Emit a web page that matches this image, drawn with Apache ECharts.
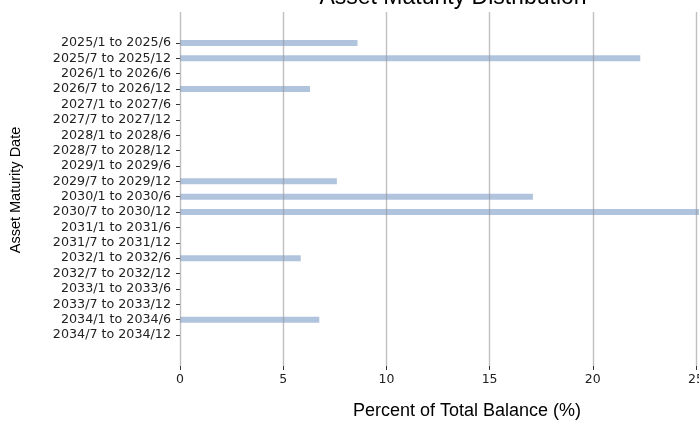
<!DOCTYPE html>
<html>
<head>
<meta charset="utf-8">
<script src="https://cdn.jsdelivr.net/npm/echarts@6/dist/echarts.min.js"></script>
<style>html,body{margin:0;padding:0;background:#fff}#c{width:699px;height:422px}</style>
</head>
<body>
<div id="c"></div>
<script>
const categories = [
  '2025/1 to 2025/6','2025/7 to 2025/12','2026/1 to 2026/6','2026/7 to 2026/12',
  '2027/1 to 2027/6','2027/7 to 2027/12','2028/1 to 2028/6','2028/7 to 2028/12',
  '2029/1 to 2029/6','2029/7 to 2029/12','2030/1 to 2030/6','2030/7 to 2030/12',
  '2031/1 to 2031/6','2031/7 to 2031/12','2032/1 to 2032/6','2032/7 to 2032/12',
  '2033/1 to 2033/6','2033/7 to 2033/12','2034/1 to 2034/6','2034/7 to 2034/12'
];
const percentValues = [8.6, 22.3, 0, 6.3, 0, 0, 0, 0, 0, 7.6, 17.1, 25.5, 0, 0, 5.85, 0, 0, 0, 6.75, 0];
const xTicks = [0, 5, 10, 15, 20, 25];
const titleText = 'Asset Maturity Distribution';
const xName = 'Percent of Total Balance (%)';
const yName = 'Asset Maturity Date';

const chart = echarts.init(document.getElementById('c'), null, {renderer: 'canvas'});
const X_MAX = 30;
const unitPx = (696 - 180) / 25;
const plotW = X_MAX * unitPx;
const band = (335 - 43) / (categories.length - 1);

chart.setOption({
  animation: false,
  backgroundColor: '#fff',
  grid: [
    {left: 180, width: plotW, top: 12, height: 354, outerBoundsMode: 'none', containLabel: false},
    {left: 180, width: plotW, top: 43 - band / 2, height: band * categories.length, outerBoundsMode: 'none', containLabel: false}
  ],
  xAxis: [
    {
      gridIndex: 0, type: 'value', min: 0, max: X_MAX, interval: 5, z: 5,
      axisLine: {show: false},
      axisTick: {show: true, length: 4, lineStyle: {color: '#333'}},
      splitLine: {show: true, lineStyle: {color: 'rgba(150,150,150,0.6)', width: 1.4}},
      axisLabel: {
        color: '#222', fontFamily: 'DejaVu Sans', fontSize: 12.5, margin: 7,
        formatter: v => xTicks.indexOf(v) >= 0 ? String(v) : ''
      }
    },
    {
      gridIndex: 1, type: 'value', min: 0, max: X_MAX, show: false
    }
  ],
  yAxis: [
    {gridIndex: 0, type: 'value', show: false, min: 0, max: 1},
    {
      gridIndex: 1, type: 'category', data: categories, inverse: true,
      axisLine: {show: false},
      axisTick: {show: true, length: 4, alignWithLabel: true, lineStyle: {color: '#333'}},
      axisLabel: {color: '#222', fontFamily: 'DejaVu Sans', fontSize: 12.7, margin: 9, interval: 0},
      splitLine: {show: false}
    }
  ],
  series: [{
    type: 'bar', xAxisIndex: 1, yAxisIndex: 1,
    data: percentValues,
    barWidth: 6,
    itemStyle: {color: '#b0c4de'},
    z: 2
  }],
  graphic: [
    {
      type: 'text', x: 453, y: -2,
      style: {text: titleText, align: 'center', verticalAlign: 'middle',
        font: '23px "Liberation Sans"', fill: '#000'}
    },
    {
      type: 'text', x: 16, y: 190, rotation: Math.PI / 2,
      style: {text: yName, align: 'center', verticalAlign: 'middle',
        font: '14.5px "Liberation Sans"', fill: '#000'}
    },
    {
      type: 'text', x: 467, y: 411,
      style: {text: xName, align: 'center', verticalAlign: 'middle',
        font: '18px "Liberation Sans"', fill: '#000'}
    }
  ]
});
</script>
</body>
</html>
